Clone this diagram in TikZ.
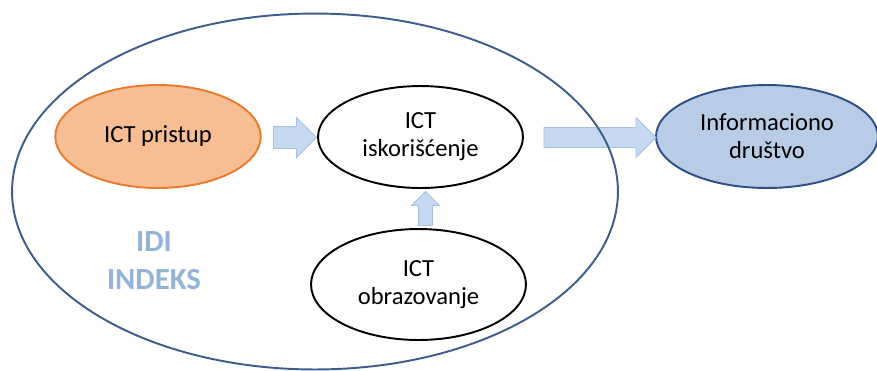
\documentclass[tikz,border=0pt]{standalone}
\usepackage{fontspec}
\setmainfont{Carlito}
\usetikzlibrary{positioning,%
  shapes.geometric,%
  shapes.arrows%
}
\definecolor{okvir}{HTML}{3B5E8C}
\definecolor{narandza}{HTML}{F7BE93}
\definecolor{narandzaR}{HTML}{E97B2E}
\definecolor{plavo}{HTML}{B8CCE6}
\definecolor{plavoR}{HTML}{2F4F86}
\definecolor{strelica}{HTML}{C6D9F1}
\definecolor{strelicaR}{HTML}{A6C0E2}
\definecolor{natpis}{HTML}{95B3D7}

\tikzset{
	elips/.style = {ellipse, draw = black, line width = 1.1pt, align = center,
		font = \fontsize{14}{16}\selectfont},
	blok/.style = {single arrow, draw = strelicaR, fill = strelica, line width = 0.5pt,
		inner xsep = 0pt, single arrow tip angle = 90}
}

\begin{document}
\begin{tikzpicture}[x = 0.02cm, y = -0.02cm]
			\useasboundingbox (0,0) rectangle (877,370);
			
			\node[elips, draw = narandzaR, fill = narandza, minimum width = 4.11cm,
				minimum height = 2.06cm] (pristup) at (158,136.5) {ICT pristup};
			\node[elips, minimum width = 4.1cm, minimum height = 2.04cm]
				(koriscenje) at (420.5,137) {ICT\\iskorišćenje};
			\node[elips, minimum width = 4.3cm, minimum height = 2.22cm]
				(obrazovanje) at (418.5,284.5) {ICT\\obrazovanje};
			\node[elips, draw = plavoR, fill = plavo, minimum width = 4.44cm,
				minimum height = 2.06cm] (drustvo) at (767,136.5) {Informaciono\\društvo};
			
			\node[text = natpis, font = \fontsize{17.5}{21.5}\selectfont\bfseries, align = center]
				(indeks) at (154,261) {IDI\\INDEKS};
			
			\node[blok, minimum height = 0.86cm, inner ysep = 0.21cm,
				single arrow head extend = 0.18cm] (s1) at (289.5,137.5) {};
			\node[blok, minimum height = 2.24cm, inner ysep = 0.19cm,
				single arrow head extend = 0.2cm] (s2) at (595,137.5) {};
			\node[blok, rotate = 90, minimum height = 0.68cm, inner ysep = 0.13cm,
				single arrow head extend = 0.14cm] (s3) at (425.5,212) {};
			
			% okvir preko strelice
			\node[ellipse, draw = okvir, line width = 1.1pt, minimum width = 12.12cm,
				minimum height = 7.12cm] (idi) at (315,191.5) {};
		
		\end{tikzpicture}
\end{document}
